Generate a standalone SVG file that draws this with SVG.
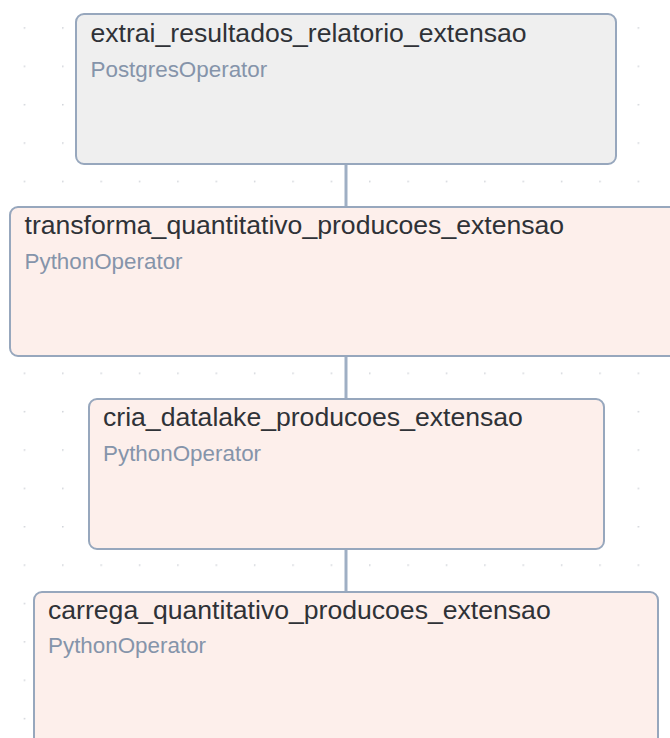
<svg xmlns="http://www.w3.org/2000/svg" width="670" height="738" viewBox="0 0 670 738">
  <defs>
    <pattern id="dots" x="24.5" y="28" width="38.37" height="38.37" patternUnits="userSpaceOnUse">
      <circle cx="0.8" cy="0.8" r="0.8" fill="#c4c8cf"/>
    </pattern>
    <style>
      .node rect { stroke: #97a7bd; stroke-width: 2; }
      .pg { fill: #efefef; }
      .py { fill: #fdefeb; }
      .title { font-family: "Liberation Sans", Arial, sans-serif; font-size: 26.6px; fill: #2f3237; }
      .sub { font-family: "Liberation Sans", Arial, sans-serif; font-size: 22.4px; fill: #8594aa; }
      .edge { stroke: #9fafc4; stroke-width: 3; fill: none; }
    </style>
  </defs>
  <rect x="0" y="0" width="670" height="738" fill="#ffffff"/>
  <rect x="0" y="0" width="670" height="738" fill="url(#dots)" transform="translate(-0.8,-0.8)"/>
  <g id="connectors">
    <line class="edge" x1="346" y1="164" x2="346" y2="207"/>
    <line class="edge" x1="346" y1="356" x2="346" y2="399"/>
    <line class="edge" x1="346" y1="549" x2="346" y2="592"/>
  </g>
  <g id="extrai_resultados_relatorio_extensao" class="node">
    <rect class="pg" x="76" y="14" width="540" height="150" rx="8"/>
    <text class="title" x="90.5" y="42">extrai_resultados_relatorio_extensao</text>
    <text class="sub" x="90.5" y="77">PostgresOperator</text>
  </g>
  <g id="transforma_quantitativo_producoes_extensao" class="node">
    <rect class="py" x="10" y="207" width="680" height="149" rx="8"/>
    <text class="title" x="24.5" y="234">transforma_quantitativo_producoes_extensao</text>
    <text class="sub" x="24.5" y="269">PythonOperator</text>
  </g>
  <g id="cria_datalake_producoes_extensao" class="node">
    <rect class="py" x="89" y="399" width="515" height="150" rx="8"/>
    <text class="title" x="103" y="426">cria_datalake_producoes_extensao</text>
    <text class="sub" x="103" y="461">PythonOperator</text>
  </g>
  <g id="carrega_quantitativo_producoes_extensao" class="node">
    <rect class="py" x="34" y="592" width="624" height="170" rx="8"/>
    <text class="title" x="48" y="619">carrega_quantitativo_producoes_extensao</text>
    <text class="sub" x="48" y="653">PythonOperator</text>
  </g>
</svg>
